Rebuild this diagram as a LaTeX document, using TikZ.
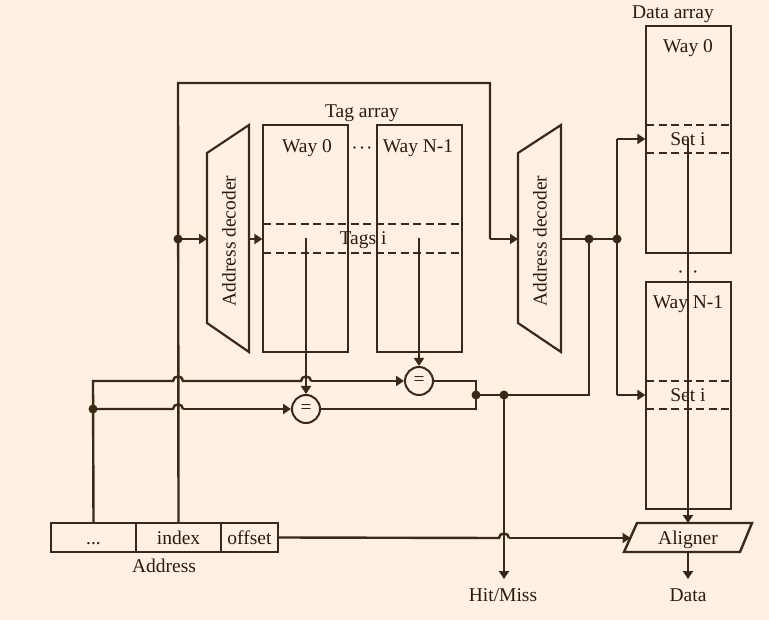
\documentclass[tikz,border=0pt]{standalone}
\usepackage{fontspec}
\setmainfont{Liberation Serif}
\usetikzlibrary{arrows.meta}
\definecolor{bg}{HTML}{FEF1E3}
\definecolor{ink}{HTML}{3A2914}
\definecolor{txt}{HTML}{2A1C0C}
\begin{document}
\begin{tikzpicture}[x=1pt,y=-1pt,
  conn/.style={draw=ink,line width=2.4pt,line join=miter},
  arr/.style={conn,-{Triangle[length=8pt,width=10pt]}},
  waybox/.style={draw=ink,line width=1.3pt,minimum width=85pt,minimum height=227pt,inner sep=0pt},
  addrbox/.style={draw=ink,line width=1.6pt,minimum height=29pt,inner sep=0pt},
  band/.style={draw=ink,line width=1.4pt,dash pattern=on 8pt off 4.5pt},
  decshape/.style={draw=ink,line width=2.2pt,line join=miter},
  lbl/.style={text=txt,font=\fontsize{19.5}{23}\selectfont,inner sep=0pt,text height=13pt,text depth=0pt},
  cmp/.style={circle,draw=ink,line width=2pt,minimum size=28pt,inner sep=0pt,text=txt,font=\fontsize{19.5}{23}\selectfont,text height=9pt,text depth=0pt},
  dot/.style={circle,fill=ink,minimum size=9pt,inner sep=0pt}
]
\useasboundingbox[fill=bg] (0,0) rectangle (769,620);

% ---------- Tag array ----------
\node[waybox] (tw0) at (305.5,238.5) {};
\node[waybox] (twN) at (419.5,238.5) {};
\node[lbl] (tagarray) at (362,111) {Tag array};
\node[lbl] (tway0) at (307,146) {Way 0};
\node[lbl] (twayN) at (418,146) {Way N-1};
\node[lbl] (tdots) at (362,148) {·\kern1pt·\kern1pt·};
\draw[band] (263,224) -- (462,224);
\draw[band] (263,253) -- (462,253);
\node[lbl] (tagsi) at (363,238) {Tags i};

% ---------- Data array ----------
\node[waybox] (dw0) at (688.5,139.5) {};
\node[waybox] (dwN) at (688.5,395.5) {};
\node[lbl] (dataarray) at (673,12) {Data array};
\node[lbl] (dway0) at (688,46) {Way 0};
\node[lbl] (dwayN) at (688,302) {Way N-1};
\node[lbl] (ddots) at (688,272) {·\kern1pt·\kern1pt·};
\draw[band] (646,125) -- (731,125);
\draw[band] (646,153) -- (731,153);
\draw[band] (646,381) -- (731,381);
\draw[band] (646,409) -- (731,409);
\node[lbl] (seti0) at (688,139) {Set i};
\node[lbl] (setiN) at (688,395) {Set i};

% ---------- Address decoders ----------
\draw[decshape] (207,153) -- (249,125) -- (249,352) -- (207,323) -- cycle;
\node[lbl,rotate=90] (dec1) at (229,241) {Address decoder};
\draw[decshape] (518,153) -- (561,125) -- (561,352) -- (518,323) -- cycle;
\node[lbl,rotate=90] (dec2) at (540,241) {Address decoder};

% ---------- Address ----------
\node[addrbox,minimum width=85pt] (adots) at (93.5,537.5) {};
\node[addrbox,minimum width=85pt] (aindex) at (178.5,537.5) {};
\node[addrbox,minimum width=57pt] (aoffset) at (249.5,537.5) {};
\node[lbl] at (93.5,538) {...};
\node[lbl] at (178.5,538) {index};
\node[lbl] at (249.5,538) {offset};
\node[lbl] (addr) at (164,566) {Address};

% ---------- Aligner ----------
\draw[conn] (637,523) -- (752,523) -- (740,552) -- (624,552) -- cycle;
\node[lbl] (aligner) at (688,538) {Aligner};
\coordinate (alin) at (630.5,538);
\coordinate (altop) at (688,523);
\coordinate (albot) at (688,552);

% ---------- Comparators ----------
\node[cmp] (c1) at (306,409) {=};
\node[cmp] (c2) at (419,381) {=};

% ---------- Junction coordinates ----------
\coordinate (jidx) at (178,239);
\coordinate (jl) at (93,409);
\coordinate (jc) at (476,395);
\coordinate (jh) at (504,395);
\coordinate (jd1) at (589,239);
\coordinate (jd2) at (617,239);

% ---------- Connectors ----------
% index line and top loop
\draw[conn] (aindex.north) -- (178,83) -- (490,83) -- (490,239);
\draw[arr] (490,239) -- (518,239);
\draw[arr] (jidx) -- (207,239);
\draw[arr] (249,239) -- (tw0.west |- jidx);

% tag outputs to comparators
\draw[arr] (306,238) -- (c1.north);
\draw[arr] (419,238) -- (c2.north);

% tag field lines
\draw[conn] (adots.north) -- (93,381) -- (173,381)
  .. controls (173,375) and (183,375) .. (183,381) -- (301,381)
  .. controls (301,375) and (311,375) .. (311,381);
\draw[arr] (311,381) -- (c2.west);
\draw[conn] (jl) -- (173,409) .. controls (173,403) and (183,403) .. (183,409);
\draw[arr] (183,409) -- (c1.west);

% comparator outputs
\draw[conn] (c2.east) -- (476,381) -- (476,409) -- (c1.east);
\draw[conn] (jc) -- (jh) -- (589,395) -- (jd1);
\draw[arr] (jh) -- (504,579);

% decoder 2 outputs
\draw[conn] (561,239) -- (jd1) -- (jd2);
\draw[conn] (617,139) -- (617,395);
\draw[arr] (617,139) -- (dw0.west |- seti0);
\draw[arr] (617,395) -- (dwN.west |- setiN);

% data path
\draw[arr] (688,139) -- (altop);
\draw[conn] (aoffset.east) -- (499,538) .. controls (499,532) and (509,532) .. (509,538);
\draw[arr] (509,538) -- (alin);
\draw[arr] (albot) -- (688,579);

\node[lbl] (hitmiss) at (503,595) {Hit/Miss};
\node[lbl] (data) at (688,595) {Data};

% dots
\foreach \p in {jidx,jl,jc,jh,jd1,jd2} \node[dot] at (\p) {};
\end{tikzpicture}
\end{document}
